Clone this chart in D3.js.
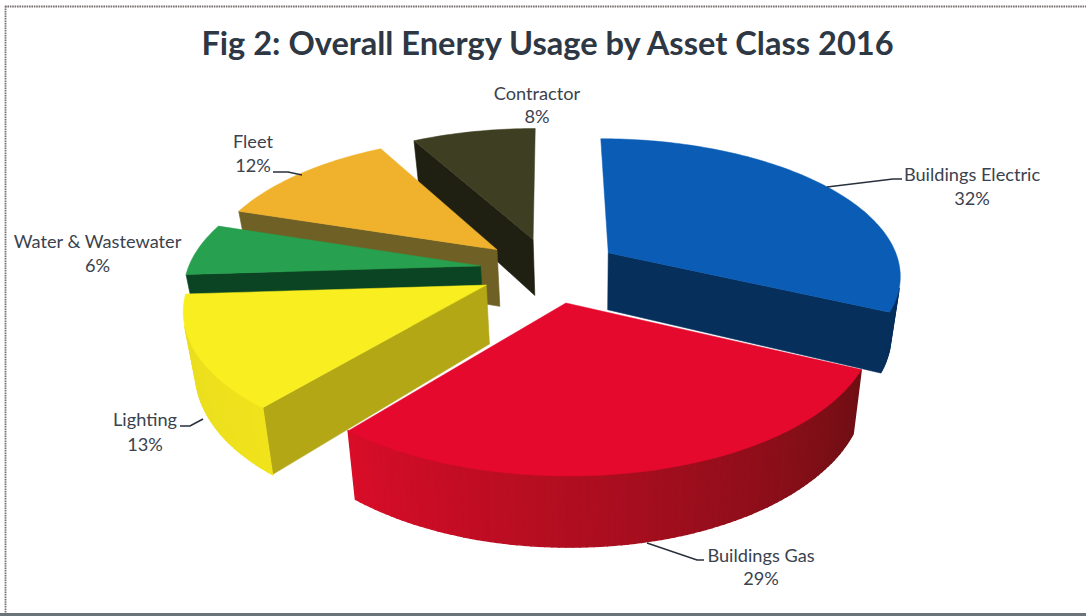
<!DOCTYPE html>
<html>
<head>
<meta charset="utf-8">
<script src="https://cdn.jsdelivr.net/npm/d3@7"></script>
<style>
  html, body { margin: 0; padding: 0; background: #fff; }
  svg { display: block; }
  text { font-family: Lato, "Open Sans", sans-serif; }
</style>
</head>
<body>
<svg id="chart" width="1086" height="616"></svg>
<script>
// Energy usage shares for 2016, in percent
const categories = ["Buildings Electric", "Buildings Gas", "Lighting", "Water & Wastewater", "Fleet", "Contractor"];
const shares = [32, 29, 13, 6, 12, 8];
const chartTitle = "Fig 2: Overall Energy Usage by Asset Class 2016";

// Fill colours per category: top face, radial walls, rim (near end, far end)
const topColors = ["#0a5cb5", "#e4092d", "#f9ee1f", "#27a04f", "#f0b22c", "#3e3f22"];
const wallColors = ["#062f5c", "#a50a1e", "#b3a715", "#0a4422", "#6f6125", "#1f2012"];
const rimColors = [["#062f5c", "#062f5c"], ["#6f0f14", "#d80d28"], ["#f0e31c", "#e8dc20"],
                   ["#0a4422", "#0a4422"], ["#6f6125", "#6f6125"], ["#1f2012", "#1f2012"]];

// Back-to-front painting order, as indices into the categories
const paintOrder = [5, 0, 4, 3, 2, 1];

// Label placement: text centre, two baselines, and the leader polyline if any
const labelLayout = [
  { x: 972, y: [181, 205], leader: [[827, 187], [893, 179], [902, 179]] },
  { x: 761, y: [562, 585], leader: [[647, 543], [697, 560], [704, 560]] },
  { x: 145, y: [426, 451], leader: [[203, 419], [190, 426], [180, 426]] },
  { x: 97.5, y: [248, 272], leader: null },
  { x: 253, y: [148, 172], leader: [[273, 172], [288, 172], [302, 175]] },
  { x: 537, y: [100, 123], leader: null }
];

// Projection of the tilted disc onto the page
const view = { cx: 550, cy: 270, radius: 293, tiltRadius: 136, persp: 0.15, depth: 58, converge: 0.03, convergeX: 590, explode: 0.24 };

function project(dx, dy, z) {
  const w = 1 / (1 - view.persp * dy);
  const x = view.cx + view.radius * dx * w;
  return [
    view.convergeX + (x - view.convergeX) * (1 - view.converge * z),
    view.cy + view.tiltRadius * dy * w + view.depth * z * w
  ];
}

const slices = d3.pie().sort(null).startAngle(0).endAngle(2 * Math.PI)(shares);

const svg = d3.select("#chart");
const line = d3.line();

// Page frame: left and top hairlines, heavier band along the bottom
svg.append("line").attr("x1", 5.5).attr("x2", 5.5).attr("y1", 6).attr("y2", 613)
  .attr("stroke", "#77706e").attr("stroke-width", 1.8).attr("stroke-dasharray", "1.6 0.8");
svg.append("line").attr("x1", 5).attr("x2", 1086).attr("y1", 6.5).attr("y2", 6.5)
  .attr("stroke", "#77706e").attr("stroke-width", 1.8).attr("stroke-dasharray", "1.6 0.8");
svg.append("line").attr("x1", 0).attr("x2", 1086).attr("y1", 614.5).attr("y2", 614.5)
  .attr("stroke", "#6b7478").attr("stroke-width", 3);

svg.append("text").attr("x", 547.5).attr("y", 55).attr("text-anchor", "middle")
  .attr("font-size", 32.6).attr("font-weight", 700).attr("fill", "#2e3744").text(chartTitle);

function sliceGeometry(s) {
  const mid = (s.startAngle + s.endAngle) / 2;
  const ox = Math.sin(mid) * view.explode;
  const oy = -Math.cos(mid) * view.explode;
  const at = (angle, r, z) => project(ox + Math.sin(angle) * r, oy - Math.cos(angle) * r, z);
  const n = Math.max(8, Math.round((s.endAngle - s.startAngle) / 0.02));
  const angles = d3.range(n + 1).map(i => s.startAngle + (s.endAngle - s.startAngle) * i / n);
  return { at, angles };
}

// Positive signed area means the quad faces the viewer in page coordinates
function facing(q) {
  let a = 0;
  q.forEach((p, i) => { const b = q[(i + 1) % q.length]; a += p[0] * b[1] - b[0] * p[1]; });
  return a > 0;
}

paintOrder.forEach(i => {
  const { at, angles } = sliceGeometry(slices[i]);
  const g = svg.append("g").attr("class", "slice");
  const first = angles[0], last = angles[angles.length - 1];

  // Radial walls, drawn only when their outward normal points down the page
  const shown = [];
  if (-Math.sin(first) > 1e-6) shown.push(first);
  if (Math.sin(last) > 1e-6) shown.push(last);
  shown.forEach(a => {
    const q = [at(a, 0, 0), at(a, 1, 0), at(a, 1, 1), at(a, 0, 1)];
    g.append("path").attr("d", line(q) + "Z").attr("fill", wallColors[i])
      .attr("stroke", wallColors[i]).attr("stroke-width", 0.6);
  });

  // Curved rim, shaded along its sweep
  const rimShade = d3.interpolateRgb(rimColors[i][0], rimColors[i][1]);
  d3.pairs(angles).forEach(([a, b], k) => {
    const q = [at(a, 1, 0), at(a, 1, 1), at(b, 1, 1), at(b, 1, 0)];
    if (facing(q)) {
      const c = rimShade(k / (angles.length - 2));
      g.append("path").attr("d", line(q) + "Z").attr("fill", c).attr("stroke", c).attr("stroke-width", 1.4);
    }
  });

  // Top face
  const top = [at(first, 0, 0), ...angles.map(a => at(a, 1, 0))];
  g.append("path").attr("d", line(top) + "Z").attr("fill", topColors[i])
    .attr("stroke", topColors[i]).attr("stroke-width", 0.5);
});

// Labels and leaders
categories.forEach((name, i) => {
  const place = labelLayout[i];
  if (place.leader) {
    svg.append("path").attr("d", line(place.leader)).attr("fill", "none")
      .attr("stroke", "#27303c").attr("stroke-width", 1.6);
  }
  const label = svg.append("text").attr("text-anchor", "middle").attr("font-size", 18.2).attr("fill", "#3a424e");
  label.append("tspan").attr("x", place.x).attr("y", place.y[0]).text(name);
  label.append("tspan").attr("x", place.x).attr("y", place.y[1]).text(shares[i] + "%");
});
</script>
</body>
</html>
